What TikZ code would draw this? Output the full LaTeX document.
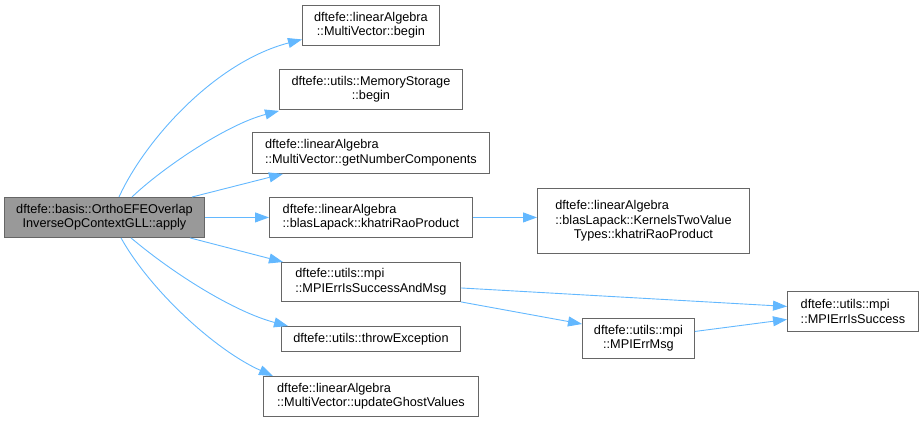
\documentclass[tikz,border=0pt]{standalone}
\usepackage{fontspec}
\setmainfont{Liberation Sans}
\usetikzlibrary{arrows.meta,calc}
\definecolor{edgeblue}{HTML}{63B8FF}
\definecolor{bord}{HTML}{666666}
\definecolor{mainfill}{HTML}{999999}
\begin{document}
\begin{tikzpicture}[x=1pt,y=-1pt,
  box/.style={draw=bord, line width=0.9pt, fill=white, inner sep=0pt, anchor=north west,
    font=\fontsize{12.7}{14.5}\selectfont, text=black},
  link/.style={draw=edgeblue, line width=0.9pt, -{Triangle[length=14pt,width=10pt,fill=edgeblue]}}]
\useasboundingbox (0,0) rectangle (924,421);
\node[box, fill=mainfill, minimum width=200pt, minimum height=40pt, align=center] (main) at (4,197)
  {dftefe::basis::OrthoEFEOverlap\\InverseOpContextGLL::apply};
\node[box, minimum width=137pt, minimum height=40pt, align=center] (n1) at (302,5)
  {dftefe::linearAlgebra\\::MultiVector::begin};
\node[box, minimum width=183pt, minimum height=40pt, align=center] (n2) at (279,69)
  {dftefe::utils::MemoryStorage\\::begin};
\node[box, minimum width=237pt, minimum height=41pt, align=left] (n3) at (252,132)
  {dftefe::linearAlgebra\\::MultiVector::getNumberComponents};
\node[box, minimum width=203pt, minimum height=40pt, align=left] (n4) at (269,197)
  {dftefe::linearAlgebra\\::blasLapack::khatriRaoProduct};
\node[box, minimum width=179pt, minimum height=39pt, align=left] (n5) at (281,262)
  {dftefe::utils::mpi\\::MPIErrIsSuccessAndMsg};
\node[box, minimum width=179pt, minimum height=25pt, align=center] (n6) at (281,326)
  {dftefe::utils::throwException};
\node[box, minimum width=215pt, minimum height=40pt, align=left] (n7) at (263,376)
  {dftefe::linearAlgebra\\::MultiVector::updateGhostValues};
\node[box, minimum width=212pt, minimum height=65pt, align=center] (n8) at (537,188)
  {\rlap{dftefe::linearAlgebra}\phantom{::blasLapack::KernelsTwoValue}\\::blasLapack::KernelsTwoValue\\Types::khatriRaoProduct};
\node[box, minimum width=131pt, minimum height=40pt, align=left] (n9) at (787,291)
  {dftefe::utils::mpi\\::MPIErrIsSuccess};
\node[box, minimum width=112pt, minimum height=40pt, align=center] (n10) at (582,318)
  {dftefe::utils::mpi\\::MPIErrMsg};

\draw[link] ($(main.north west)+(115,0)$) .. controls (145,140) and (215,62) .. ($(n1.west)+(0,14)$);
\draw[link] ($(main.north west)+(128,0)$) .. controls (160,170) and (225,125) .. ($(n2.south west)+(0,1)$);
\draw[link] ($(main.north west)+(188,0)$) -- ($(n3.south west)+(31,0)$);
\draw[link] (main.east) -- (n4.west);
\draw[link] ($(main.south west)+(186,0)$) -- ($(n5.north west)+(2,0)$);
\draw[link] ($(main.south west)+(127,0)$) .. controls (175,275) and (235,312) .. ($(n6.north west)+(7,0)$);
\draw[link] ($(main.south west)+(117,0)$) .. controls (150,290) and (215,350) .. ($(n7.north west)+(10,0)$);
\draw[link] (n4.east) -- (n4.east -| n8.west);
\draw[link] ($(n5.east)+(0,6)$) -- ($(n9.west)+(0,-5)$);
\draw[link] (n5.south east) -- ($(n10.north west)+(0,6)$);
\draw[link] ($(n10.east)+(0,-7)$) -- ($(n9.west)+(0,8)$);
\end{tikzpicture}
\end{document}
